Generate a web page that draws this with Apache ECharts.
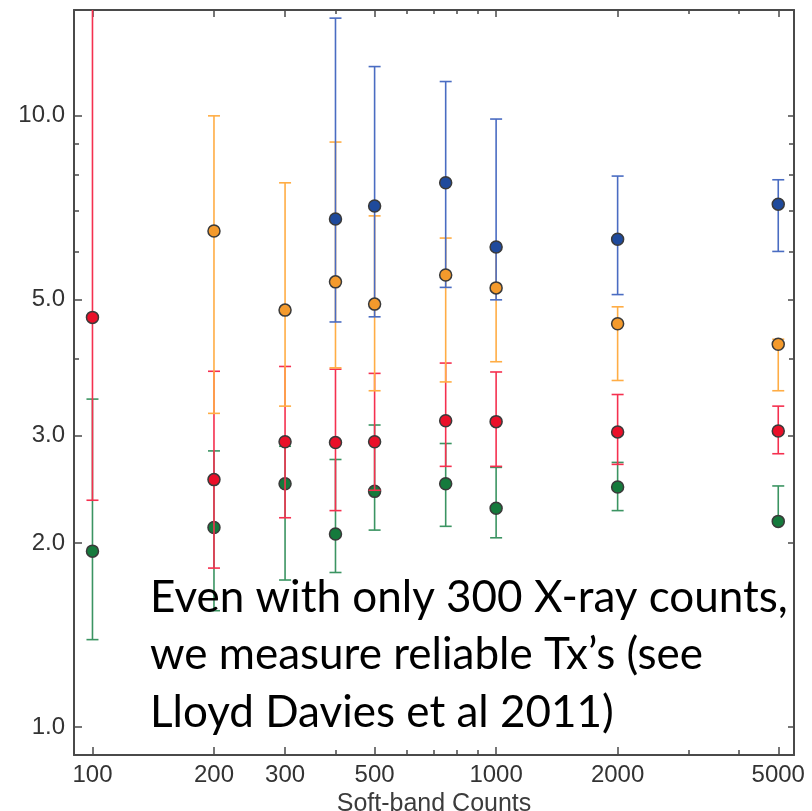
<!DOCTYPE html>
<html>
<head>
<meta charset="utf-8">
<script src="https://cdn.jsdelivr.net/npm/echarts@6/dist/echarts.min.js"></script>
<style>
  html, body { margin: 0; padding: 0; background: #fff; }
  #chart { width: 812px; height: 811px; }
</style>
</head>
<body>
<div id="chart"></div>
<script>
// soft-band counts on the x axis
const counts = [100, 200, 300, 400, 500, 750, 1000, 2000, 5000];

// temperature values with lower / upper error limits (null = no point)
const blueVal = [null, null, null, 6.78, 7.12, 7.77, 6.10, 6.28, 7.17];
const blueLo  = [null, null, null, 4.60, 4.69, 5.24, 5.00, 5.10, 6.00];
const blueHi  = [null, null, null, 14.45, 12.04, 11.38, 9.88, 7.97, 7.86];

const orangeVal = [null, 6.48, 4.81, 5.35, 4.92, 5.49, 5.23, 4.57, 4.23];
const orangeLo  = [null, 3.26, 3.35, 3.87, 3.55, 3.67, 3.96, 3.69, 3.55];
const orangeHi  = [null, 10.0, 7.77, 9.06, 6.86, 6.31, 6.12, 4.87, 4.31];

const redVal = [4.68, 2.54, 2.93, 2.92, 2.93, 3.17, 3.16, 3.04, 3.05];
const redLo  = [2.35, 1.82, 2.20, 2.26, 2.44, 2.67, 2.67, 2.69, 2.80];
const redHi  = [15.5, 3.82, 3.89, 3.85, 3.79, 3.94, 3.81, 3.50, 3.35];

const greenVal = [1.94, 2.12, 2.50, 2.07, 2.43, 2.50, 2.28, 2.47, 2.17];
const greenLo  = [1.39, 1.55, 1.74, 1.79, 2.10, 2.13, 2.04, 2.26, 2.16];
const greenHi  = [3.44, 2.83, 2.88, 2.74, 3.12, 2.91, 2.66, 2.71, 2.48];

// tick labels
const xLabels = [100, 200, 300, 500, 1000, 2000, 5000];
const xMinor = [400, 600, 700, 800, 900, 3000, 4000];
const yLabels = [1, 2, 3, 5, 10];
const yMinor = [4, 6, 7, 8, 9];

const xRange = [90, 5470];
const yRange = [0.9, 14.9];

const lg = Math.log10;
const axisColor = '#4a4a4a';
const labelFont = { color: '#333', fontSize: 24, fontFamily: 'Liberation Sans' };

function makeAxis(dim, position, ticks, len, withLabels) {
  const range = dim === 'x' ? xRange : yRange;
  const ax = {
    type: 'value',
    position: position,
    min: lg(range[0]),
    max: lg(range[1]),
    splitLine: { show: false },
    axisLine: { show: withLabels !== null, onZero: false, lineStyle: { color: axisColor, width: 2 } },
    axisTick: {
      show: true, inside: true, length: len,
      customValues: ticks.map(lg),
      lineStyle: { color: axisColor, width: 1.5 }
    },
    axisLabel: { show: false }
  };
  if (withLabels) {
    ax.axisLabel = Object.assign({
      show: true,
      customValues: (dim === 'x' ? xLabels : yLabels).map(lg),
      margin: dim === 'x' ? 8 : 9,
      formatter: v => dim === 'x' ? String(Math.round(Math.pow(10, v))) : Math.pow(10, v).toFixed(1)
    }, labelFont);
  }
  return ax;
}

function errorBars(color, lo, hi, z) {
  const data = [];
  counts.forEach((c, i) => {
    if (lo[i] != null) data.push([lg(c), lg(lo[i]), lg(hi[i])]);
  });
  return {
    type: 'custom',
    clip: true,
    z: z,
    silent: true,
    encode: { x: 0, y: [1, 2] },
    data: data,
    renderItem: function (params, api) {
      const top = api.coord([api.value(0), api.value(2)]);
      const bot = api.coord([api.value(0), api.value(1)]);
      const w = 6;
      const st = { stroke: color, lineWidth: 1.6 };
      return {
        type: 'group',
        children: [
          { type: 'line', shape: { x1: top[0], y1: top[1], x2: bot[0], y2: bot[1] }, style: st },
          { type: 'line', shape: { x1: top[0] - w, y1: top[1], x2: top[0] + w, y2: top[1] }, style: st },
          { type: 'line', shape: { x1: bot[0] - w, y1: bot[1], x2: bot[0] + w, y2: bot[1] }, style: st }
        ]
      };
    }
  };
}

function points(color, vals, z) {
  const data = [];
  counts.forEach((c, i) => {
    if (vals[i] != null) data.push([lg(c), lg(vals[i])]);
  });
  return {
    type: 'scatter',
    z: z,
    symbolSize: 12,
    silent: true,
    itemStyle: { color: color, borderColor: '#3a3a3a', borderWidth: 1.5, opacity: 1 },
    data: data
  };
}

const chart = echarts.init(document.getElementById('chart'));

const xBottom = makeAxis('x', 'bottom', xLabels, 8, true);
xBottom.name = 'Soft-band Counts';
xBottom.nameLocation = 'middle';
xBottom.nameGap = 30;
xBottom.nameTextStyle = { color: '#3c3c3c', fontSize: 25, fontFamily: 'Liberation Sans' };

const noteFont = '44px Lato';

chart.setOption({
  animation: false,
  grid: { left: 74, top: 10, width: 720, height: 745, containLabel: false, outerBoundsMode: 'none' },
  xAxis: [
    xBottom,
    makeAxis('x', 'bottom', xMinor, 5, null),
    makeAxis('x', 'top', xLabels, 7, false),
    makeAxis('x', 'top', xMinor, 4, null)
  ],
  yAxis: [
    makeAxis('y', 'left', yLabels, 8, true),
    makeAxis('y', 'left', yMinor, 5, null),
    makeAxis('y', 'right', yLabels, 6, false),
    makeAxis('y', 'right', yMinor, 5, null)
  ],
  series: [
    errorBars('#3b9462', greenLo, greenHi, 2),
    points('#157a3c', greenVal, 3),
    errorBars('#f5304f', redLo, redHi, 4),
    points('#ea1029', redVal, 5),
    errorBars('#ffad45', orangeLo, orangeHi, 6),
    errorBars('#4a6cc2', blueLo, blueHi, 7),
    points('#f49a2c', orangeVal, 8),
    points('#1f4a9c', blueVal, 9)
  ],
  graphic: [
    { type: 'text', x: 150, y: 598, z: 100, style: { text: 'Even with only 300 X-ray counts,', font: noteFont, fill: '#000', textVerticalAlign: 'middle' } },
    { type: 'text', x: 150, y: 655, z: 100, style: { text: 'we measure reliable Tx\u2019s (see', font: noteFont, fill: '#000', textVerticalAlign: 'middle' } },
    { type: 'text', x: 150, y: 713, z: 100, style: { text: 'Lloyd Davies et al 2011)', font: noteFont, fill: '#000', textVerticalAlign: 'middle' } }
  ]
});
</script>
</body>
</html>
